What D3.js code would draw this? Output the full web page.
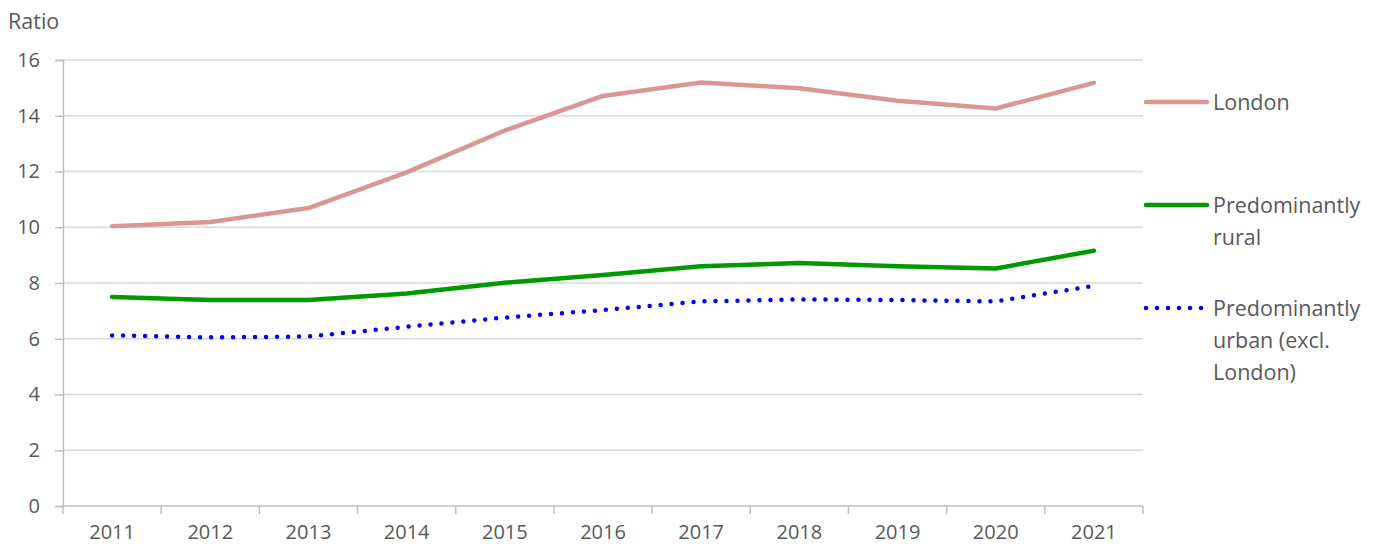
<!DOCTYPE html>
<html>
<head>
<meta charset="utf-8">
<script src="https://cdn.jsdelivr.net/npm/d3@7"></script>
<style>
  body { margin: 0; background: #fff; }
  text { font-family: "Open Sans", Lato, sans-serif; fill: #595959; }
</style>
</head>
<body>
<div class="ratio-chart"></div>
<script>
const years = ["2011", "2012", "2013", "2014", "2015", "2016", "2017", "2018", "2019", "2020", "2021"];
const london = [10.04, 10.19, 10.69, 11.97, 13.47, 14.71, 15.19, 14.99, 14.54, 14.26, 15.18];
const rural = [7.5, 7.39, 7.39, 7.62, 8.01, 8.29, 8.6, 8.72, 8.6, 8.52, 9.16];
const urban = [6.12, 6.05, 6.08, 6.43, 6.76, 7.03, 7.34, 7.41, 7.39, 7.34, 7.9];
const yTicks = [0, 2, 4, 6, 8, 10, 12, 14, 16];
const seriesNames = [["London"], ["Predominantly", "rural"], ["Predominantly", "urban (excl.", "London)"]];

const width = 1385;
const height = 546;
const plot = { left: 63, right: 1143, top: 60, bottom: 506 };

const svg = d3
  .select(".ratio-chart")
  .append("svg")
  .attr("width", width)
  .attr("height", height);

const x = d3.scaleBand().domain(years).range([plot.left, plot.right]).padding(0);
const y = d3.scaleLinear().domain([0, 16]).range([plot.bottom, plot.top]);
const cx = (d) => x(d) + x.bandwidth() / 2;

// grid lines
svg
  .append("g")
  .selectAll("line")
  .data(yTicks.filter((d) => d > 0))
  .join("line")
  .attr("x1", plot.left)
  .attr("x2", plot.right)
  .attr("y1", (d) => y(d))
  .attr("y2", (d) => y(d))
  .attr("stroke", "#d9d9d9")
  .attr("stroke-width", 1.5);

// y axis
const yAxis = d3.axisLeft(y).tickValues(yTicks).tickSize(8).tickPadding(15);
svg
  .append("g")
  .attr("transform", `translate(${plot.left},0)`)
  .call(yAxis)
  .call((g) => g.select(".domain").attr("stroke", "#bfbfbf").attr("stroke-width", 1.5))
  .call((g) => g.selectAll(".tick line").attr("stroke", "#bfbfbf").attr("stroke-width", 1.5))
  .call((g) => g.selectAll(".tick text").attr("font-size", "20px").attr("font-family", null).attr("fill", "#595959"));

// x axis
const xAxis = d3.axisBottom(x).tickSize(0).tickPadding(19);
svg
  .append("g")
  .attr("transform", `translate(0,${plot.bottom})`)
  .call(xAxis)
  .call((g) => g.select(".domain").remove())
  .call((g) => g.selectAll(".tick text").attr("font-size", "20px").attr("font-family", null).attr("fill", "#595959"));

svg
  .append("line")
  .attr("x1", plot.left)
  .attr("x2", plot.right)
  .attr("y1", plot.bottom)
  .attr("y2", plot.bottom)
  .attr("stroke", "#bfbfbf")
  .attr("stroke-width", 1.5);

// x tick marks sit on the category boundaries
svg
  .append("g")
  .selectAll("line")
  .data(years.map((d) => x(d)).concat([x(years[years.length - 1]) + x.bandwidth()]))
  .join("line")
  .attr("x1", (d) => d)
  .attr("x2", (d) => d)
  .attr("y1", plot.bottom)
  .attr("y2", plot.bottom + 8)
  .attr("stroke", "#bfbfbf")
  .attr("stroke-width", 1.5);

svg
  .append("text")
  .attr("x", 8)
  .attr("y", 29)
  .attr("font-size", "21.5px")
  .text("Ratio");

const series = [
  { values: london, color: "#d99694", dash: null, cap: "round" },
  { values: rural, color: "#009900", dash: null, cap: "round" },
  { values: urban, color: "#0000ff", dash: "0,11", cap: "round" },
];

const line = d3
  .line()
  .x((d, i) => cx(years[i]))
  .y((d) => y(d));

series.forEach((s) => {
  svg
    .append("path")
    .datum(s.values)
    .attr("fill", "none")
    .attr("stroke", s.color)
    .attr("stroke-width", 4.5)
    .attr("stroke-linejoin", "round")
    .attr("stroke-linecap", s.cap)
    .attr("stroke-dasharray", s.dash)
    .attr("d", line);
});

// legend
const legendY = [102, 205, 308];
const legend = svg
  .append("g")
  .selectAll("g")
  .data(series)
  .join("g")
  .attr("transform", (d, i) => `translate(1145,${legendY[i]})`);

legend
  .append("line")
  .attr("x1", 1)
  .attr("x2", 62)
  .attr("stroke", (d) => d.color)
  .attr("stroke-width", 4.5)
  .attr("stroke-linecap", "round")
  .attr("stroke-dasharray", (d) => d.dash);

legend
  .append("text")
  .attr("x", 68)
  .attr("font-size", "21.5px")
  .selectAll("tspan")
  .data((d, i) => seriesNames[i])
  .join("tspan")
  .attr("x", 68)
  .attr("y", (d, i) => i * 32)
  .attr("dy", "0.35em")
  .text((d) => d);
</script>
</body>
</html>
